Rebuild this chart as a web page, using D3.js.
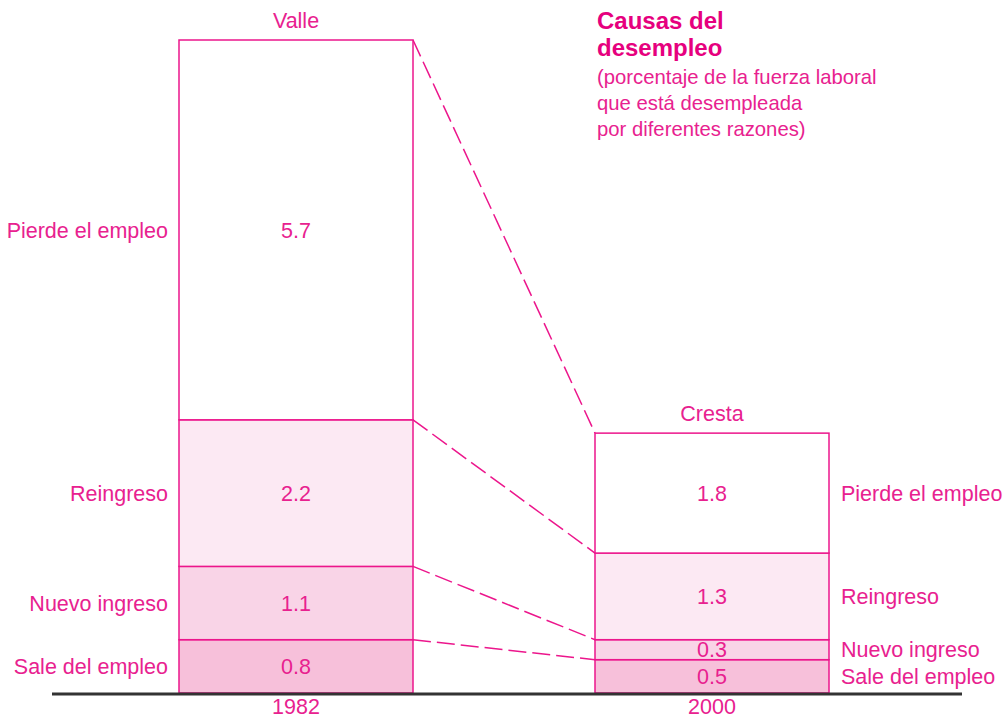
<!DOCTYPE html>
<html>
<head>
<meta charset="utf-8">
<script src="https://cdn.jsdelivr.net/npm/d3@7"></script>
<style>
  body { margin: 0; background: #fff; }
  text { font-family: "Liberation Sans", Arial, sans-serif; fill: #e8218f; }
</style>
</head>
<body>
<script>
// SVG Size
var width = 1003,
    height = 720;

// Data (bottom to top)
var causes = ["Sale del empleo", "Nuevo ingreso", "Reingreso", "Pierde el empleo"];
var years = ["1982", "2000"];
var peakLabels = ["Valle", "Cresta"];
var values1982 = [0.8, 1.1, 2.2, 5.7];
var values2000 = [0.5, 0.3, 1.3, 1.8];
var titleLines = ["Causas del", "desempleo"];
var subtitleLines = ["(porcentaje de la fuerza laboral", "que está desempleada", "por diferentes razones)"];

var fills = ["#f7c0da", "#f9d4e7", "#fce9f3", "#ffffff"];
var pink = "#ec168c";

// Build table for d3.stack
var table = years.map(function(y, i) {
  var row = { year: y };
  var vals = i === 0 ? values1982 : values2000;
  causes.forEach(function(c, j) { row[c] = vals[j]; });
  return row;
});

var stacked = d3.stack().keys(causes)(table);

var svg = d3.select("body").append("svg")
  .attr("width", width)
  .attr("height", height);

var baseY = 693;
var barWidth = 234;
var labelSize = 21.5;

var x = d3.scalePoint()
  .domain(years)
  .range([296, 712]);

var y = d3.scaleLinear()
  .domain([0, d3.sum(values1982)])
  .range([baseY, 40]);

// Dashed connectors between bar tops of each segment
var connectors = stacked.map(function(s) { return [s[0][1], s[1][1]]; });
svg.selectAll(".connector")
  .data(connectors)
  .enter()
  .append("line")
    .attr("class", "connector")
    .attr("x1", x("1982") + barWidth / 2)
    .attr("x2", x("2000") - barWidth / 2)
    .attr("y1", function(d) { return y(d[0]); })
    .attr("y2", function(d) { return y(d[1]); })
    .attr("stroke", pink)
    .attr("stroke-width", 1.5)
    .attr("stroke-dasharray", "18,6");

// Bars
var layers = svg.selectAll(".layer")
  .data(stacked)
  .enter()
  .append("g")
    .attr("class", "layer");

layers.selectAll("rect")
  .data(function(s, i) { return s.map(function(d) { return { d: d, i: i }; }); })
  .enter()
  .append("rect")
    .attr("x", function(o) { return x(o.d.data.year) - barWidth / 2; })
    .attr("y", function(o) { return y(o.d[1]); })
    .attr("width", barWidth)
    .attr("height", function(o) { return y(o.d[0]) - y(o.d[1]); })
    .attr("fill", function(o) { return fills[o.i]; })
    .attr("stroke", pink)
    .attr("stroke-width", 1.5);

// Value labels
layers.selectAll(".val")
  .data(function(s) { return s; })
  .enter()
  .append("text")
    .attr("class", "val")
    .attr("x", function(d) { return x(d.data.year); })
    .attr("y", function(d) { return (y(d[0]) + y(d[1])) / 2; })
    .attr("dy", "0.36em")
    .attr("text-anchor", "middle")
    .attr("font-size", labelSize)
    .text(function(d) { return d3.format(".1f")(d[1] - d[0]); });

// Category labels: left of 1982, right of 2000
stacked.forEach(function(s) {
  svg.append("text")
    .attr("x", x("1982") - barWidth / 2 - 11)
    .attr("y", (y(s[0][0]) + y(s[0][1])) / 2)
    .attr("dy", "0.36em")
    .attr("text-anchor", "end")
    .attr("font-size", labelSize)
    .text(s.key);
  svg.append("text")
    .attr("x", x("2000") + barWidth / 2 + 12)
    .attr("y", (y(s[1][0]) + y(s[1][1])) / 2)
    .attr("dy", "0.36em")
    .attr("text-anchor", "start")
    .attr("font-size", labelSize)
    .text(s.key);
});

// Peak labels above bars
years.forEach(function(yr, i) {
  var top = y(d3.sum(i === 0 ? values1982 : values2000));
  svg.append("text")
    .attr("x", x(yr))
    .attr("y", top - 12)
    .attr("text-anchor", "middle")
    .attr("font-size", labelSize)
    .text(peakLabels[i]);
});

// Baseline
svg.append("line")
  .attr("x1", 52)
  .attr("x2", 962)
  .attr("y1", baseY + 1)
  .attr("y2", baseY + 1)
  .attr("stroke", "#333")
  .attr("stroke-width", 3);

// Year labels
svg.selectAll(".year")
  .data(years)
  .enter()
  .append("text")
    .attr("class", "year")
    .attr("x", function(d) { return x(d); })
    .attr("y", 714)
    .attr("text-anchor", "middle")
    .attr("font-size", labelSize)
    .text(function(d) { return d; });

// Title
titleLines.forEach(function(t, i) {
  svg.append("text")
    .attr("x", 597)
    .attr("y", 29 + i * 27)
    .attr("font-size", 24)
    .attr("font-weight", "bold")
    .style("fill", "#e6007e")
    .text(t);
});
subtitleLines.forEach(function(t, i) {
  svg.append("text")
    .attr("x", 597)
    .attr("y", 84 + i * 26)
    .attr("font-size", 20.3)
    .text(t);
});
</script>
</body>
</html>
